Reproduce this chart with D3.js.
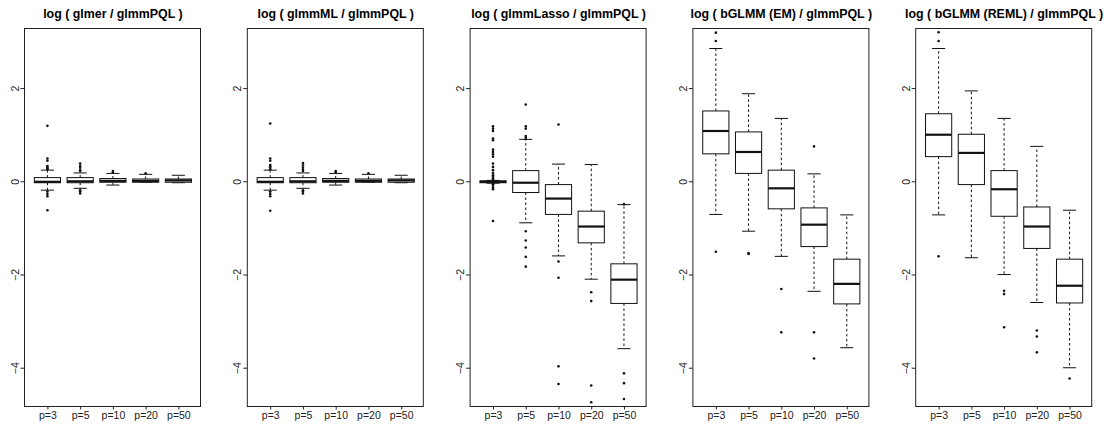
<!DOCTYPE html>
<html><head><meta charset="utf-8">
<script src="https://cdn.jsdelivr.net/npm/d3@7/dist/d3.min.js"></script>
<style>body{margin:0;background:#fff}svg{display:block}</style>
</head><body><svg id="c" width="1114" height="424"></svg>
<script>
const categories = ["p=3","p=5","p=10","p=20","p=50"];
const titles = ["log ( glmer / glmmPQL )","log ( glmmML / glmmPQL )","log ( glmmLasso / glmmPQL )","log ( bGLMM (EM) / glmmPQL )","log ( bGLMM (REML) / glmmPQL )"];
const yTicks = [-4,-2,0,2];

// [lower whisker, q1, median, q3, upper whisker]
const glmerStats = [[-0.18,-0.02,0.0,0.09,0.25],[-0.14,-0.02,0.01,0.09,0.19],[-0.07,-0.01,0.02,0.07,0.18],[-0.01,-0.01,0.02,0.06,0.16],[-0.02,-0.01,0.03,0.06,0.14]];
const glmerOut = [[1.2,0.5,0.45,0.34,0.32,0.29,0.27,-0.21,-0.26,-0.31,-0.61],[0.39,0.34,0.3,0.25,0.23,-0.18,-0.21,-0.25],[0.23,0.2],[0.18],[]];
const glmmMLStats = [[-0.18,-0.02,0.0,0.09,0.25],[-0.14,-0.02,0.01,0.09,0.19],[-0.07,-0.01,0.02,0.07,0.18],[-0.01,-0.01,0.02,0.06,0.16],[-0.02,-0.01,0.03,0.06,0.14]];
const glmmMLOut = [[1.25,0.5,0.45,0.36,0.33,0.3,0.27,-0.21,-0.26,-0.31,-0.62],[0.4,0.35,0.3,0.26,0.23,-0.18,-0.21,-0.25],[0.23,0.2],[0.18],[]];
const lassoStats = [[-0.03,-0.02,0.0,0.02,0.03],[-0.88,-0.23,-0.02,0.24,0.91],[-1.59,-0.70,-0.36,-0.06,0.38],[-2.09,-1.31,-0.96,-0.63,0.37],[-3.58,-2.61,-2.10,-1.76,-0.49]];
const lassoOut = [[1.19,1.14,1.09,0.93,0.89,0.69,0.64,0.59,0.54,0.39,0.32,0.25,0.19,0.14,0.11,0.07,0.05,-0.05,-0.07,-0.12,-0.16,-0.84],[1.66,1.19,1.14,0.98,0.94,-1.06,-1.26,-1.41,-1.61,-1.82],[1.23,-1.71,-2.06,-3.96,-4.34],[-2.37,-2.56,-4.37,-4.73],[-0.48,-4.11,-4.32,-4.66]];
const emStats = [[-0.70,0.60,1.09,1.52,2.86],[-1.06,0.18,0.64,1.07,1.89],[-1.60,-0.58,-0.14,0.25,1.36],[-2.35,-1.39,-0.92,-0.56,0.17],[-3.56,-2.62,-2.19,-1.66,-0.71]];
const emOut = [[3.2,3.02,-1.5],[-1.53,-1.55],[-2.3,-3.23],[0.76,-3.23,-3.79],[]];
const remlStats = [[-0.71,0.54,1.01,1.46,2.86],[-1.63,-0.06,0.62,1.02,1.95],[-1.99,-0.74,-0.16,0.24,1.36],[-2.59,-1.43,-0.96,-0.54,0.76],[-3.99,-2.60,-2.23,-1.66,-0.61]];
const remlOut = [[3.21,3.02,-1.6],[],[-2.34,-2.41,-3.12],[-3.19,-3.32,-3.66],[-4.22]];

const panels = [
  {title:titles[0], stats:glmerStats, out:glmerOut},
  {title:titles[1], stats:glmmMLStats, out:glmmMLOut},
  {title:titles[2], stats:lassoStats, out:lassoOut},
  {title:titles[3], stats:emStats, out:emOut},
  {title:titles[4], stats:remlStats, out:remlOut}
];

const svg = d3.select("#c");
const W = 1114, pw = W/5;
const mL = 24.5, mR = 21.5, plotTop = 28, plotBottom = 405.5;
const font = "'Liberation Sans', Arial, Helvetica, sans-serif";

panels.forEach((p,i)=>{
  const g = svg.append("g").attr("transform",`translate(${i*pw},0)`);
  const x = d3.scaleLinear().domain([0.3,5.7]).range([mL, pw-mR]);
  const y = d3.scaleLinear().domain([-4.8,3.3]).range([plotBottom, plotTop]);
  const bw = (x(1)-x(0))*0.8;

  g.append("text").attr("x",(mL+pw-mR)/2).attr("y",17.5).attr("text-anchor","middle")
    .attr("font-family",font).attr("font-weight","bold").attr("font-size","12.4px").text(p.title);

  const ya = g.append("g").attr("transform",`translate(${Math.round(mL)-0.5},0)`)
    .call(d3.axisLeft(y).tickValues(yTicks).tickSize(4).tickFormat(d=>d<0?"\u2212"+Math.abs(d):d));
  ya.select(".domain").remove();
  ya.selectAll("line").attr("stroke","#222");
  ya.selectAll(".tick").attr("transform",d=>`translate(0,${y(d)})`);
  ya.selectAll("text").attr("font-family",font).attr("font-size","10.5px").attr("fill","#222")
    .attr("x",0).attr("y",0).attr("dy","0.35em").attr("text-anchor","middle")
    .attr("transform","translate(-9.5,0) rotate(-90)");

  const xa = g.append("g").attr("transform",`translate(0,${Math.round(plotBottom)+0.5})`)
    .call(d3.axisBottom(x).tickValues([1,2,3,4,5]).tickSize(3).tickFormat((d,k)=>categories[k]));
  xa.select(".domain").attr("d",`M${x(1)},0H${x(5)}`).attr("stroke","#222");
  xa.selectAll("line").attr("stroke","#222");
  xa.selectAll("text").attr("font-family",font).attr("font-size","10.5px").attr("fill","#222").attr("y",5).attr("dy","0.71em");

  g.append("rect").attr("x",Math.round(mL)-0.5).attr("y",Math.round(plotTop)+0.5)
    .attr("width",Math.round(pw-mR)-Math.round(mL)).attr("height",Math.round(plotBottom)-Math.round(plotTop))
    .attr("fill","none").attr("stroke","#222").attr("stroke-width",1);

  p.stats.forEach((s,k)=>{
    const cx = x(k+1);
    const [lo,q1,md,q3,hi] = s;
    const bg = g.append("g").attr("stroke","#111").attr("fill","none");
    bg.append("line").attr("x1",cx).attr("x2",cx).attr("y1",y(q3)).attr("y2",y(hi)).attr("stroke-dasharray","2.5,2.5");
    bg.append("line").attr("x1",cx).attr("x2",cx).attr("y1",y(q1)).attr("y2",y(lo)).attr("stroke-dasharray","2.5,2.5");
    bg.append("line").attr("x1",cx-bw/4).attr("x2",cx+bw/4).attr("y1",y(hi)).attr("y2",y(hi));
    bg.append("line").attr("x1",cx-bw/4).attr("x2",cx+bw/4).attr("y1",y(lo)).attr("y2",y(lo));
    bg.append("rect").attr("x",cx-bw/2).attr("width",bw).attr("y",y(q3)).attr("height",Math.max(0.5,y(q1)-y(q3))).attr("fill","#fff");
    bg.append("line").attr("x1",cx-bw/2).attr("x2",cx+bw/2).attr("y1",y(md)).attr("y2",y(md)).attr("stroke-width",2.2);
    g.selectAll(null).data(p.out[k]).enter().append("circle")
      .attr("cx",cx).attr("cy",d=>y(d)).attr("r",1.3).attr("fill","#111");
  });
});
</script></body></html>
